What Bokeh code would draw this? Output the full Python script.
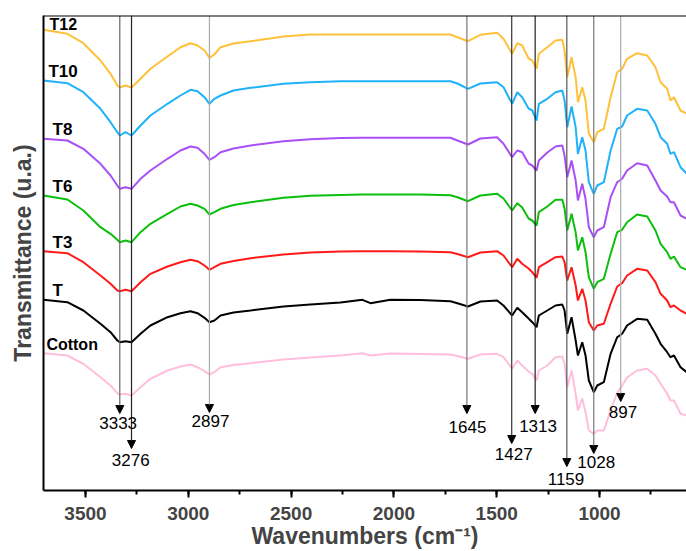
from bokeh.plotting import figure
from bokeh.models import Range1d, SingleIntervalTicker, Span, Arrow, NormalHead, Label, FixedTicker
from bokeh.embed import file_html
from bokeh.resources import INLINE

# ---------------- data ----------------
wavenumbers = [3704, 3588, 3510, 3427, 3378, 3345, 3333, 3305, 3276, 3232,
               3184, 3101, 3038, 2989, 2955, 2921, 2897, 2873, 2843, 2780,
               2697, 2537, 2406, 2260, 2153, 2114, 2017, 1871, 1725, 1691,
               1640, 1579, 1498, 1467, 1425, 1400, 1376, 1345, 1327, 1306,
               1295, 1254, 1214, 1181, 1170, 1157, 1136, 1116, 1105, 1084,
               1068, 1052, 1028, 1011, 979, 946, 914, 890, 866, 817,
               768, 728, 703, 671, 655, 638, 606, 576]

t12 = [460.7, 456.7, 447.3, 430, 416.7, 405, 403, 405, 403, 411.7,
       421.7, 434, 443.3, 447.3, 445, 440, 432.7, 436, 443.3, 447,
       449.3, 454, 456, 456, 456, 456, 456, 456, 456, 453.3,
       449.3, 455.7, 457.7, 451.7, 436.7, 447.3, 445, 432, 430, 421.7,
       436.7, 443.3, 450, 450.7, 440, 413.3, 433.3, 413.3, 388.3, 403.3,
       390, 357, 348.3, 358.3, 361.7, 393.3, 418.3, 421.7, 431.7, 437.3,
       435, 423.3, 408.3, 401.7, 390, 393.3, 380, 376.7]

t10 = [410, 407.3, 398.3, 381.7, 368.3, 358.3, 355, 358.3, 355, 365,
       375, 386.7, 395, 400.7, 399.3, 393.3, 386.7, 391.7, 395, 400,
       402.7, 406.7, 408.3, 409.3, 409.3, 409.3, 409.3, 409.3, 409.3, 407,
       401.7, 407, 408.3, 403.3, 386.7, 398.3, 393.3, 382, 380, 370,
       386.7, 391.7, 398.3, 400, 390, 363.3, 384, 363.3, 336.7, 353.3,
       340, 308.3, 296.7, 305, 308.3, 340, 361.7, 364, 375, 381.7,
       380, 366.7, 353.3, 346.7, 336.7, 338.3, 323.3, 316.7]

t8 = [351.7, 350, 341.7, 326.7, 315, 305, 301.7, 303.3, 301.7, 311.7,
      320, 331.7, 340, 344, 342.7, 336.7, 330.7, 333.3, 338.3, 342,
      345, 349.3, 351.3, 352.5, 352.7, 352.7, 352.7, 352.7, 352.7, 350,
      346, 352, 353.3, 346.7, 333.3, 340, 338.3, 327, 325, 320,
      330, 338, 344, 345, 335, 313.3, 330, 310, 290, 306.7,
      291.7, 263.3, 253.3, 260, 263.3, 293.3, 308.3, 311.7, 320, 327.3,
      325, 310, 300, 294, 288.3, 288.3, 275, 271.7]

t6 = [295, 291, 280, 263.3, 256.7, 250.7, 248.3, 250, 248.3, 258.3,
      266.7, 276.7, 284, 286.7, 285, 281.7, 276, 278.3, 281.7, 285.5,
      288.3, 292.7, 294.7, 295.5, 296, 296, 296, 296, 295.3, 293.3,
      289.3, 295, 296.7, 292, 280, 287.3, 283, 272, 270, 265,
      278.3, 284, 290.7, 290.7, 282, 260, 276.7, 258, 240, 253.3,
      238.3, 213.3, 201.7, 208.3, 211.7, 236.7, 258.3, 260.7, 268.3, 276,
      274, 260, 246.7, 238.3, 231.7, 234, 223.3, 220.7]

t3 = [239.3, 237.3, 228.3, 215, 206.7, 200, 199.3, 200.7, 199.3, 208.3,
      216.7, 224, 228.3, 230.7, 229.3, 225, 220.7, 223.3, 226.7, 229.5,
      232.3, 236, 238, 239, 239.3, 239.3, 239.3, 239, 238.3, 236.5,
      233.3, 238, 239.3, 235, 223.3, 231.7, 226.7, 222, 218.3, 212.7,
      223.3, 228.3, 233.3, 234, 228.3, 210, 223.3, 205, 190, 201.7,
      190, 168.3, 160, 165, 166.7, 186.7, 204, 207.3, 215, 221.7,
      220, 208.3, 196.7, 190, 183.3, 185, 180, 176.7]

t0 = [190.7, 188.3, 180, 166.7, 158.3, 150, 148.3, 149.3, 148.3, 156.7,
      165, 173.3, 177.3, 179.3, 177.3, 172.7, 168.3, 170, 175, 178,
      180, 184, 186, 188, 190.7, 187.3, 190.7, 190.5, 189.3, 187.3,
      184, 189, 190, 185, 175, 182.7, 178.3, 172, 168.3, 163.3,
      175, 180, 185, 186, 180, 156.7, 173.3, 150, 135, 148.3,
      135, 110, 98.3, 105, 108.3, 136.7, 153.3, 156.7, 165, 171.7,
      170.7, 156.7, 146.7, 138.3, 133.3, 135, 123.3, 118.3]

cotton = [137.3, 135, 126.7, 113.3, 105, 97.3, 96, 96.7, 95, 103.3,
          111.7, 120, 124, 126, 123.3, 119.3, 116, 118.3, 123.3, 125.5,
          127.3, 131, 133, 135, 137.3, 135, 137, 136.5, 136, 134.5,
          131.7, 136, 136.7, 133.3, 121.7, 130, 125, 119, 116.7, 110,
          120, 125, 133.3, 134, 126.7, 103.3, 120, 96.7, 80, 92,
          78, 60, 56.7, 60, 60, 80, 98, 105, 113, 120,
          121.7, 115, 106.7, 96.7, 90, 90, 76.7, 75]

series_names = ["T12", "T10", "T8", "T6", "T3", "T", "Cotton"]
series_values = [t12, t10, t8, t6, t3, t0, cotton]

peaks = [3333, 3276, 2897, 1645, 1427, 1313, 1159, 1028, 897]
peak_labels = ["3333", "3276", "2897", "1645", "1427", "1313", "1159", "1028", "897"]

# ---------------- styling / layout ----------------
colors = ["#ffc13b", "#1fb2fb", "#a84ff7", "#0cbf0c", "#ff1a1a", "#000000", "#ffbfdc"]
name_x = [3675, 3680, 3660, 3660, 3660, 3660, 3690]
name_y = [466, 419, 361, 304, 248, 200, 146]
name_size = ["16px", "17px", "17px", "17px", "17px", "17px", "16px"]

arrow_tip = [77, 42, 78, 77, 47, 77, 24, 37, 89]
arrow_color = ["#666666", "#222222", "#aaaaaa", "#777777", "#333333", "#222222", "#555555", "#777777", "#aaaaaa"]
plabel_x = [3341, 3280, 2892, 1642, 1417, 1299, 1163, 1016, 886]
plabel_y = [68, 31, 70, 64, 37, 65, 12, 29, 79]

FONT = "Liberation Sans"
X_LEFT, X_RIGHT = 3704, 577
Y_BOTTOM, Y_TOP = 0, 475

p = figure(width=686, height=551,
           x_range=Range1d(X_LEFT, X_RIGHT), y_range=Range1d(Y_BOTTOM, Y_TOP),
           output_backend="svg", toolbar_location=None,
           min_border_left=43, min_border_right=0, min_border_top=15, min_border_bottom=61)
p.xgrid.visible = False
p.ygrid.visible = False
p.outline_line_color = None
p.background_fill_color = "white"
p.border_fill_color = "white"

for vals, col in zip(series_values, colors):
    p.line(wavenumbers, vals, line_color=col, line_width=2)

for pk, tip, col in zip(peaks, arrow_tip, arrow_color):
    p.add_layout(Arrow(end=NormalHead(size=8, fill_color="black", line_color="black", line_width=1),
                       x_start=pk, y_start=Y_TOP, x_end=pk, y_end=tip,
                       line_color=col, line_width=1.2))

for txt, x, y in zip(peak_labels, plabel_x, plabel_y):
    p.add_layout(Label(x=x, y=y, text=txt, text_align="center", text_baseline="alphabetic",
                       text_font=FONT, text_font_size="17px", text_color="black"))

for txt, x, y, fs in zip(series_names, name_x, name_y, name_size):
    p.add_layout(Label(x=x, y=y, text=txt, text_align="left", text_baseline="alphabetic",
                       text_font=FONT, text_font_size=fs, text_font_style="bold", text_color="black"))

p.add_layout(Span(location=Y_TOP, dimension="width", line_color="black", line_width=2))

xa = p.xaxis[0]
xa.ticker = SingleIntervalTicker(interval=500, num_minor_ticks=2)
xa.axis_label = "Wavenumbers (cm\u207b\u00b9)"
xa.axis_label_text_font = FONT
xa.axis_label_text_font_size = "23px"
xa.axis_label_text_font_style = "bold"
xa.axis_label_standoff = 0
xa.major_label_text_font = FONT
xa.major_label_text_font_size = "19px"
xa.major_label_text_font_style = "bold"
xa.major_label_standoff = 9
xa.axis_line_width = 2
xa.major_tick_line_width = 2
xa.minor_tick_line_width = 2
xa.major_tick_in = 0
xa.major_tick_out = 7
xa.minor_tick_in = 0
xa.minor_tick_out = 4

ya = p.yaxis[0]
ya.ticker = FixedTicker(ticks=[])
ya.major_label_text_font_size = "0px"
ya.major_tick_line_color = None
ya.minor_tick_line_color = None
ya.axis_line_width = 2
ya.axis_label = "Transmittance (u.a.)"
ya.axis_label_text_font = FONT
ya.axis_label_text_font_size = "23px"
ya.axis_label_text_font_style = "bold"
ya.axis_label_standoff = 8

open("out.html", "w").write(file_html(p, INLINE))
